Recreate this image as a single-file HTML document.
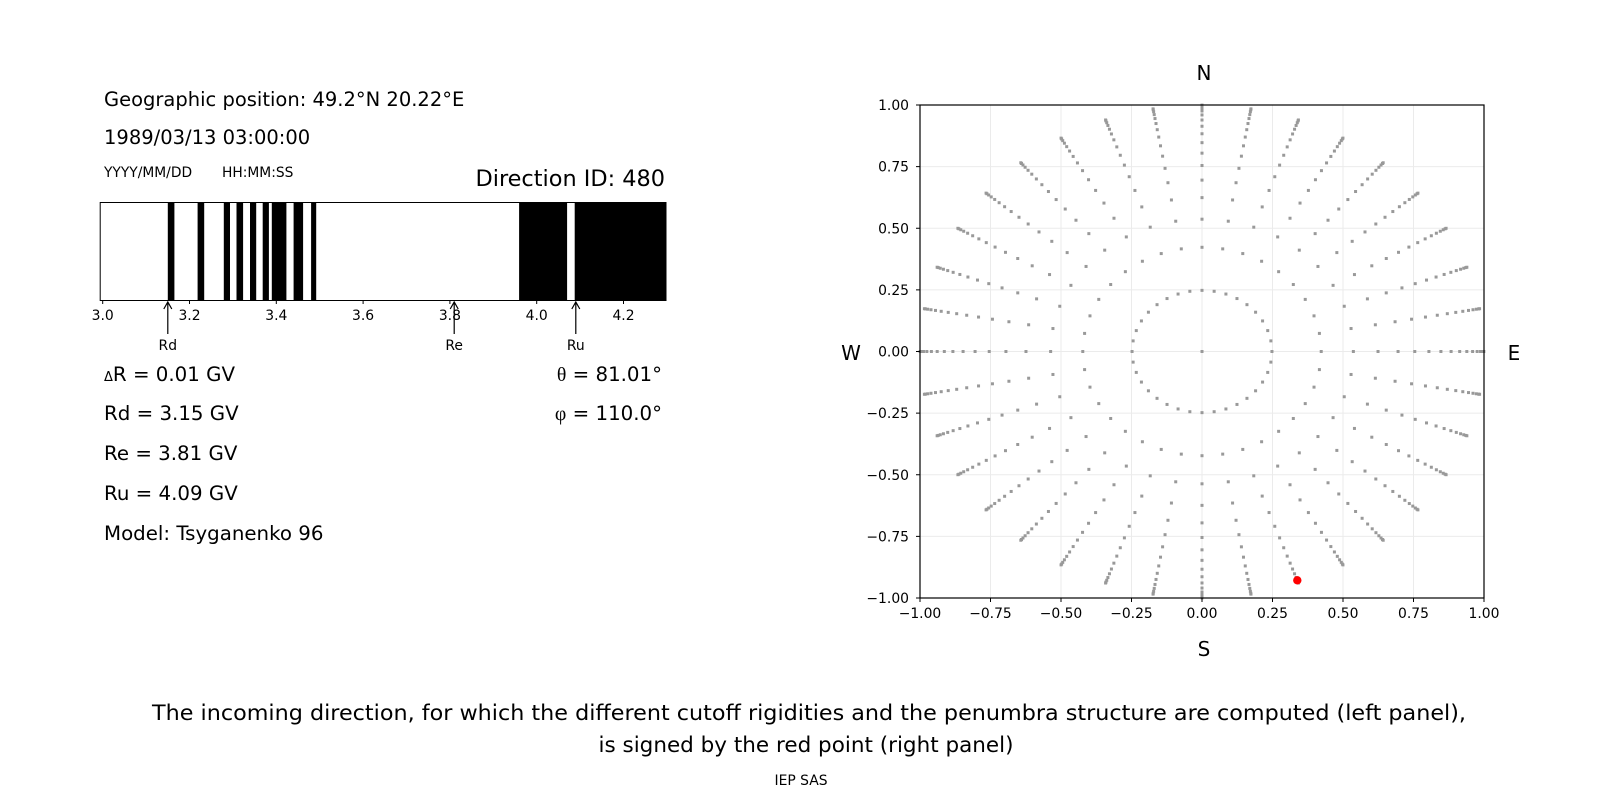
<!DOCTYPE html>
<html><head><meta charset="utf-8"><style>
html,body{margin:0;padding:0;background:#fff;}
svg{display:block;font-family:"DejaVu Sans","Liberation Sans",sans-serif;}
</style></head><body>
<svg id="s" width="1600" height="800" viewBox="0 0 1600 800" xmlns="http://www.w3.org/2000/svg">
<rect width="1600" height="800" fill="#fff"/>
<text x="104" y="106" font-size="19.5">Geographic position: 49.2°N 20.22°E</text>
<text x="104" y="144" font-size="19.5">1989/03/13 03:00:00</text>
<text x="104" y="177" font-size="13.8">YYYY/MM/DD</text>
<text x="222" y="177" font-size="13.8">HH:MM:SS</text>
<text x="665" y="186" font-size="22.4" text-anchor="end">Direction ID: 480</text>
<g id="bar"></g>
<rect x="100.2" y="202.5" width="565.8" height="98" fill="none" stroke="#000" stroke-width="1"/>
<g id="barticks" font-size="13.9" text-anchor="middle"></g>
<g stroke="#000" stroke-width="1.2" fill="none">
<path d="M167.8 334 V302 M163.8 309 L167.8 302 L171.8 309"/>
<path d="M454.2 334 V302 M450.2 309 L454.2 302 L458.2 309"/>
<path d="M575.8 334 V302 M571.8 309 L575.8 302 L579.8 309"/>
</g>
<g font-size="13.9" text-anchor="middle">
<text x="167.8" y="350">Rd</text><text x="454.2" y="350">Re</text><text x="575.8" y="350">Ru</text>
</g>
<g font-size="19.8">
<text x="104" y="381"><tspan font-size="13">Δ</tspan>R = 0.01 GV</text>
<text x="104" y="420">Rd = 3.15 GV</text>
<text x="104" y="460">Re = 3.81 GV</text>
<text x="104" y="500">Ru = 4.09 GV</text>
<text x="104" y="540">Model: Tsyganenko 96</text>
<text x="662" y="381" text-anchor="end"><tspan font-family="Liberation Serif,serif">θ</tspan> = 81.01°</text>
<text x="662" y="420" text-anchor="end"><tspan font-family="Liberation Serif,serif">φ</tspan> = 110.0°</text>
</g>
<g id="grid" stroke="#ebebeb" stroke-width="1"></g>
<g id="dots" fill="#999"></g>
<circle cx="1297.3" cy="580.3" r="4.2" fill="#f00"/>
<rect x="920" y="105" width="564" height="493" fill="none" stroke="#000" stroke-width="1.2"/>
<g id="pticks" font-size="13.9"></g>
<g font-size="20" text-anchor="middle">
<text x="1204" y="80">N</text><text x="1204" y="656">S</text>
<text x="851" y="360">W</text><text x="1514" y="360">E</text>
</g>
<g font-size="21.5" text-anchor="middle">
<text x="809" y="720" textLength="1314" lengthAdjust="spacingAndGlyphs">The incoming direction, for which the different cutoff rigidities and the penumbra structure are computed (left panel),</text>
<text x="806" y="752">is signed by the red point (right panel)</text>
</g>
<text x="801" y="785" font-size="13.9" text-anchor="middle">IEP SAS</text>
</svg>
<script>
var NS="http://www.w3.org/2000/svg";
function el(p,t,a,txt){var e=document.createElementNS(NS,t);for(var k in a)e.setAttribute(k,a[k]);if(txt!==undefined)e.textContent=txt;document.getElementById(p).appendChild(e);return e;}
var bands=[[167.8,174.4],[197.6,204.2],[223.8,230],[236.5,243.1],[250,256.2],[262.7,268.9],[271.8,286.4],[293.6,303.1],[311.1,316.2],[519.1,567.1],[574.7,666]];
bands.forEach(function(b){el("bar","rect",{x:b[0],y:202.5,width:b[1]-b[0],height:98,fill:"#000"});});
for(var i=0;i<7;i++){var g=3.0+0.2*i,x=102.7+i*86.8;el("barticks","line",{x1:x,x2:x,y1:300.5,y2:304,stroke:"#000"});el("barticks","text",{x:x,y:320},g.toFixed(1));}
var cx=1202,cy=351.5,sx=282,sy=246.5;
for(var i=0;i<9;i++){var v=-1+0.25*i;var x=cx+v*sx,y=cy-v*sy;
 el("grid","line",{x1:x,x2:x,y1:105,y2:598});el("grid","line",{x1:920,x2:1484,y1:y,y2:y});
 el("pticks","line",{x1:x,x2:x,y1:598,y2:602,stroke:"#000"});
 el("pticks","text",{x:x,y:618,"text-anchor":"middle"},(v<0?"\u2212":"")+Math.abs(v).toFixed(2));
 el("pticks","line",{x1:916,x2:920,y1:y,y2:y,stroke:"#000"});
 el("pticks","text",{x:909,y:y+5,"text-anchor":"end"},(v<0?"\u2212":"")+Math.abs(v).toFixed(2));}
el("dots","rect",{x:cx-1.5,y:cy-1.5,width:3,height:3});
for(var k=0;k<16;k++){var c=1-(k+0.5)/16,r=Math.sqrt(1-c*c);
 for(var j=0;j<36;j++){var a=(j*10-180)*Math.PI/180;var x=cx+r*Math.cos(a)*sx,y=cy-r*Math.sin(a)*sy;
  el("dots","rect",{x:x-1.5,y:y-1.5,width:3,height:3});}}
</script>
</body></html>
